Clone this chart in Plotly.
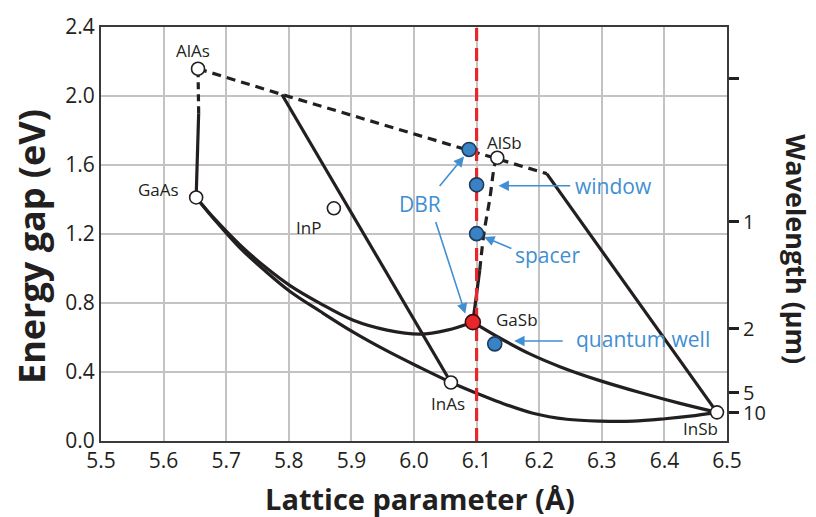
import plotly.graph_objects as go

# ---- binary compounds: lattice parameter (Å), band gap (eV) ----
compounds = ["AlAs", "GaAs", "InP", "AlSb", "InAs", "InSb"]
comp_a = [5.655, 5.652, 5.872, 6.133, 6.059, 6.484]
comp_eg = [2.158, 1.412, 1.349, 1.642, 0.339, 0.166]

gasb_a = [6.094]
gasb_eg = [0.689]

# ---- device layers (blue markers) ----
layer_a = [6.088, 6.100, 6.100, 6.129]
layer_eg = [1.690, 1.485, 1.202, 0.563]

# ---- ternary alloy curves ----
gaas_gasb_a = [5.652, 5.682, 5.722, 5.762, 5.802, 5.850, 5.903, 5.957, 6.010, 6.053, 6.094]
gaas_gasb_eg = [1.412, 1.286, 1.137, 1.010, 0.901, 0.798, 0.700, 0.643, 0.620, 0.643, 0.689]

gaas_inas_a = [5.652, 5.682, 5.722, 5.762, 5.802, 5.850, 5.903, 5.957, 6.010, 6.059]
gaas_inas_eg = [1.412, 1.280, 1.119, 0.987, 0.867, 0.752, 0.631, 0.522, 0.425, 0.339]

inas_insb_a = [6.059, 6.097, 6.137, 6.190, 6.244, 6.297, 6.350, 6.401, 6.441, 6.484]
inas_insb_eg = [0.339, 0.281, 0.224, 0.161, 0.126, 0.115, 0.115, 0.129, 0.144, 0.166]

gasb_insb_a = [6.094, 6.137, 6.185, 6.233, 6.297, 6.361, 6.425, 6.484]
gasb_insb_eg = [0.689, 0.597, 0.505, 0.431, 0.350, 0.281, 0.218, 0.166]

# AlAs-GaAs (solid part, then indirect dashed part)
alas_gaas_solid_a = [5.652, 5.656]
alas_gaas_solid_eg = [1.412, 1.900]
alas_gaas_dash_a = [5.656, 5.655]
alas_gaas_dash_eg = [1.900, 2.158]

# X-valley (indirect) dashed upper boundary
indirect_a = [5.655, 5.789, 6.212]
indirect_eg = [2.158, 2.009, 1.550]

# straight solid legs
kink_inas_a = [5.789, 6.059]
kink_inas_eg = [2.009, 0.339]
alsb_insb_a = [6.212, 6.484]
alsb_insb_eg = [1.550, 0.166]

# GaSb-AlSb (solid then dashed)
gasb_alsb_solid_a = [6.094, 6.105]
gasb_alsb_solid_eg = [0.689, 0.990]
gasb_alsb_dash_a = [6.105, 6.112, 6.121, 6.129, 6.133]
gasb_alsb_dash_eg = [0.990, 1.211, 1.402, 1.603, 1.642]

# lattice-matching line
match_a = [6.1, 6.1]
match_eg = [0.0, 2.4]

# right axis: wavelength ticks (µm) and their energy positions
wl_labels = ["", "1", "2", "5", "10"]
wl_energy = [2.10, 1.27, 0.65, 0.28, 0.165]

x_ticks = [5.5, 5.6, 5.7, 5.8, 5.9, 6.0, 6.1, 6.2, 6.3, 6.4, 6.5]
y_ticks = [0.0, 0.4, 0.8, 1.2, 1.6, 2.0, 2.4]

BLACK = "#231f20"
BLUE_TXT = "#3f8fd2"
BLUE_PT = "#3a82c6"
RED = "#e8262b"
FONT = "Open Sans"

fig = go.Figure()


def line(xs, ys, dash="solid", shape="linear", width=3.2, color=BLACK):
    fig.add_trace(go.Scatter(x=xs, y=ys, mode="lines",
                             line=dict(color=color, width=width, dash=dash, shape=shape),
                             hoverinfo="skip", showlegend=False))


line(gaas_gasb_a, gaas_gasb_eg, shape="spline")
line(gaas_inas_a, gaas_inas_eg, shape="spline")
line(inas_insb_a, inas_insb_eg, shape="spline")
line(gasb_insb_a, gasb_insb_eg, shape="spline")
line(alas_gaas_solid_a, alas_gaas_solid_eg)
line(alas_gaas_dash_a, alas_gaas_dash_eg, dash="7px,5px")
line(indirect_a, indirect_eg, dash="9px,6px")
line(kink_inas_a, kink_inas_eg)
line(alsb_insb_a, alsb_insb_eg)
line(gasb_alsb_solid_a, gasb_alsb_solid_eg)
line(gasb_alsb_dash_a, gasb_alsb_dash_eg, dash="9px,6px", shape="spline")
line(match_a, match_eg, dash="13px,7px", width=3.2, color=RED)

fig.add_trace(go.Scatter(x=comp_a, y=comp_eg, mode="markers",
                         marker=dict(size=13, color="white",
                                     line=dict(color=BLACK, width=1.6)),
                         hoverinfo="skip", showlegend=False))
fig.add_trace(go.Scatter(x=layer_a, y=layer_eg, mode="markers",
                         marker=dict(size=14, color=BLUE_PT,
                                     line=dict(color="#1e3b5a", width=1.6)),
                         hoverinfo="skip", showlegend=False))
fig.add_trace(go.Scatter(x=gasb_a, y=gasb_eg, mode="markers",
                         marker=dict(size=15, color=RED,
                                     line=dict(color="#3a1010", width=1.6)),
                         hoverinfo="skip", showlegend=False))

# invisible trace to activate the wavelength axis
fig.add_trace(go.Scatter(x=[6.0], y=[1.0], yaxis="y2", mode="markers",
                         marker=dict(opacity=0), hoverinfo="skip", showlegend=False))

# compound labels
label_pos = {
    "AlAs": (5.647, 2.262),
    "GaAs": (5.592, 1.458),
    "InP": (5.831, 1.240),
    "AlSb": (6.144, 1.728),
    "GaSb": (6.165, 0.704),
    "InAs": (6.055, 0.216),
    "InSb": (6.457, 0.073),
}
for name, (lx, ly) in label_pos.items():
    fig.add_annotation(x=lx, y=ly, text=name, showarrow=False,
                       xanchor="center", yanchor="middle",
                       font=dict(family=FONT, size=17, color=BLACK))

# blue layer labels
blue_labels = [("DBR", 6.010, 1.374), ("window", 6.318, 1.479),
               ("spacer", 6.214, 1.077), ("quantum well", 6.366, 0.589)]
for txt, lx, ly in blue_labels:
    fig.add_annotation(x=lx, y=ly, text=txt, showarrow=False,
                       xanchor="center", yanchor="middle",
                       font=dict(family=FONT, size=21, color=BLUE_TXT))

# blue arrows: (tail x, tail y, head x, head y)
arrows = [
    (6.039, 1.470, 6.080, 1.650),
    (6.034, 1.278, 6.082, 0.738),
    (6.252, 1.480, 6.135, 1.480),
    (6.158, 1.112, 6.112, 1.183),
    (6.240, 0.580, 6.160, 0.580),
]
for tx, ty, hx, hy in arrows:
    fig.add_annotation(x=hx, y=hy, ax=tx, ay=ty, xref="x", yref="y",
                       axref="x", ayref="y", text="", showarrow=True,
                       arrowhead=2, arrowsize=1.3, arrowwidth=1.6,
                       arrowcolor=BLUE_TXT, standoff=0, startstandoff=0)

# axis titles
fig.add_annotation(xref="paper", yref="paper", x=-0.110, y=0.469,
                   xanchor="center", yanchor="middle",
                   text="<b>Energy gap (eV)</b>", textangle=-90, showarrow=False,
                   font=dict(family=FONT, size=36, color=BLACK))
fig.add_annotation(xref="paper", yref="paper", x=0.5096, y=-0.138,
                   xanchor="center", yanchor="middle",
                   text="<b>Lattice parameter (Å)</b>", showarrow=False,
                   font=dict(family=FONT, size=29, color=BLACK))
fig.add_annotation(xref="paper", yref="paper", x=1.111, y=0.462,
                   xanchor="center", yanchor="middle",
                   text="<b>Wavelength (µm)</b>", textangle=90, showarrow=False,
                   font=dict(family=FONT, size=27, color=BLACK))

AX_LINE = "#3a3a3a"
GRID = "#c3c3c3"

fig.update_layout(
    width=816, height=517,
    margin=dict(l=101, r=89, t=23, b=76),
    paper_bgcolor="white", plot_bgcolor="white",
    font=dict(family=FONT, color="#231f20"),
    xaxis=dict(range=[5.5, 6.5], tickvals=x_ticks,
               ticktext=[f"{v:.1f}" for v in x_ticks],
               showgrid=True, gridcolor=GRID, gridwidth=1.6,
               showline=True, linecolor=AX_LINE, linewidth=2, mirror=True,
               ticks="", zeroline=False, tickfont=dict(size=21, family=FONT)),
    yaxis=dict(range=[0, 2.4], tickvals=y_ticks,
               ticktext=[f"{v:.1f}" for v in y_ticks],
               showgrid=True, gridcolor=GRID, gridwidth=1.6,
               showline=True, linecolor=AX_LINE, linewidth=2,
               ticks="", zeroline=False, tickfont=dict(size=21, family=FONT)),
    yaxis2=dict(range=[0, 2.4], overlaying="y", side="right",
                tickvals=wl_energy, ticktext=wl_labels,
                ticks="outside", ticklen=10, tickwidth=3, tickcolor=BLACK,
                showgrid=False, zeroline=False,
                showline=True, linecolor=AX_LINE, linewidth=2,
                tickfont=dict(size=20, family=FONT)),
)

fig.write_html("out.html")
